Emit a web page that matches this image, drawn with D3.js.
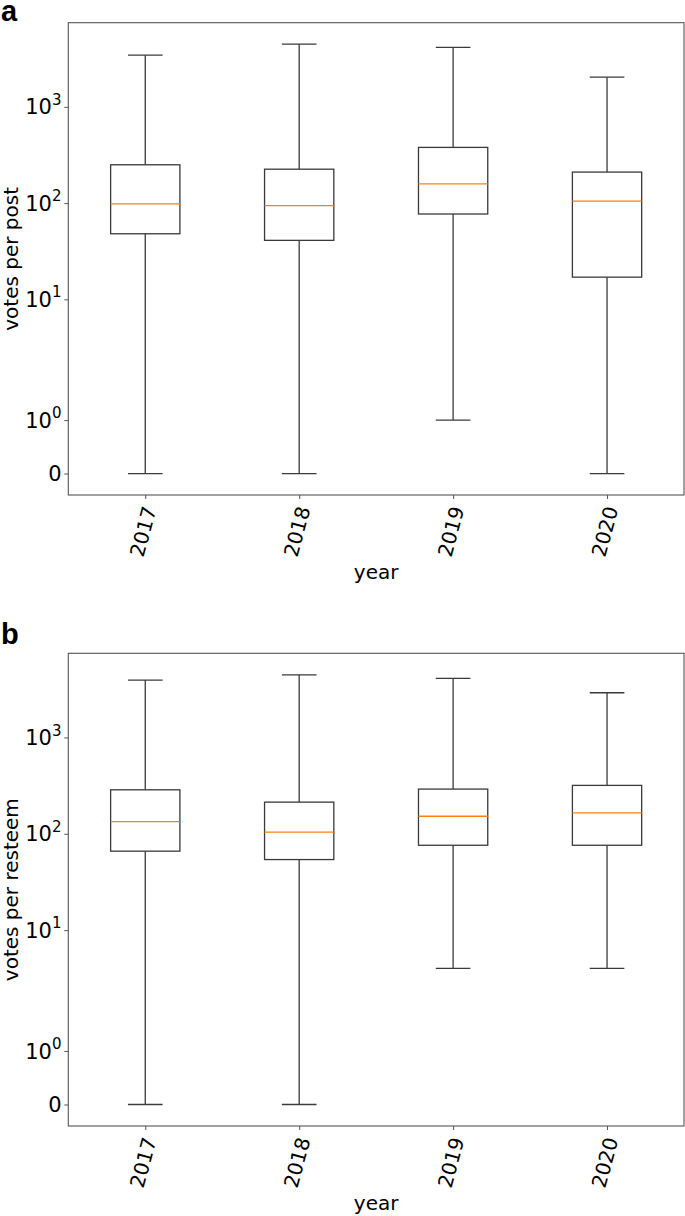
<!DOCTYPE html>
<html>
<head>
<meta charset="utf-8">
<script src="https://cdn.jsdelivr.net/npm/d3@7"></script>
<style>
  html, body { margin: 0; padding: 0; background: #fff; }
  svg { display: block; }
  text { font-family: "DejaVu Sans", sans-serif; fill: #000; }
</style>
</head>
<body>
<svg id="chart" width="685" height="1216"></svg>
<script>
// ---- data ----
const years = ["2017", "2018", "2019", "2020"];

// panel a: votes per post
const postWhiskerLow  = [0, 0, 1, 0];
const postQ1          = [48, 41, 77, 17];
const postMedian      = [98, 94, 158, 105];
const postQ3          = [250, 225, 379, 210];
const postWhiskerHigh = [3440, 4480, 4145, 2035];

// panel b: votes per resteem
const resWhiskerLow  = [0, 0, 4, 4];
const resQ1          = [66, 54, 76, 76];
const resMedian      = [134, 104, 152, 165];
const resQ3          = [286, 213, 291, 318];
const resWhiskerHigh = [3940, 4470, 4100, 2910];

const yTickValues = [0, 1, 10, 100, 1000];
const yTickExponents = [null, "0", "1", "2", "3"];

// ---- symlog transform (linthresh=2, linscale=1, base 10) ----
const LT = 2, LS = 1 / (1 - 1 / 10);
function symT(v) {
  const a = Math.abs(v);
  const r = a <= LT ? a * LS : LT * (LS + Math.log10(a / LT));
  return v < 0 ? -r : r;
}

const svg = d3.select("#chart");
const left = 68.3, right = 684;

function panel(cfg) {
  const { top, bottom, label, letter, letterY, lo, q1, med, q3, hi } = cfg;
  const g = svg.append("g");

  const x = d3.scalePoint().domain(years).range([left, right]).padding(0.5);
  const step = x.step();
  const bw = 0.45 * step;

  const fMax = d3.max(hi, symT), fMin = d3.min(lo, symT);
  const R = fMax - fMin;
  const y = d3.scaleLinear().domain([fMin - 0.05 * R, fMax + 0.05 * R]).range([bottom, top]);
  const Y = v => y(symT(v));

  const data = years.map((yr, i) => ({ yr, lo: lo[i], q1: q1[i], med: med[i], q3: q3[i], hi: hi[i] }));
  const stroke = "#3a3a3a", sw = 1.3;

  const b = g.selectAll("g.box").data(data).join("g").attr("class", "box");
  // whiskers
  b.append("line").attr("x1", d => x(d.yr)).attr("x2", d => x(d.yr))
    .attr("y1", d => Y(d.q3)).attr("y2", d => Y(d.hi)).attr("stroke", stroke).attr("stroke-width", sw);
  b.append("line").attr("x1", d => x(d.yr)).attr("x2", d => x(d.yr))
    .attr("y1", d => Y(d.q1)).attr("y2", d => Y(d.lo)).attr("stroke", stroke).attr("stroke-width", sw);
  // caps
  b.append("line").attr("x1", d => x(d.yr) - bw / 4).attr("x2", d => x(d.yr) + bw / 4)
    .attr("y1", d => Y(d.hi)).attr("y2", d => Y(d.hi)).attr("stroke", stroke).attr("stroke-width", sw);
  b.append("line").attr("x1", d => x(d.yr) - bw / 4).attr("x2", d => x(d.yr) + bw / 4)
    .attr("y1", d => Y(d.lo)).attr("y2", d => Y(d.lo)).attr("stroke", stroke).attr("stroke-width", sw);
  // box
  b.append("rect").attr("x", d => x(d.yr) - bw / 2).attr("width", bw)
    .attr("y", d => Y(d.q3)).attr("height", d => Y(d.q1) - Y(d.q3))
    .attr("fill", "none").attr("stroke", stroke).attr("stroke-width", sw);
  // median
  b.append("line").attr("x1", d => x(d.yr) - bw / 2).attr("x2", d => x(d.yr) + bw / 2)
    .attr("y1", d => Y(d.med)).attr("y2", d => Y(d.med)).attr("stroke", "#ff7f0e").attr("stroke-width", 1.3);

  // frame
  g.append("rect").attr("x", left).attr("y", top).attr("width", right - left).attr("height", bottom - top)
    .attr("fill", "none").attr("stroke", "#555").attr("stroke-width", 1.1);

  // y axis
  const yAxis = d3.axisLeft(y).tickValues(yTickValues.map(symT)).tickSize(4).tickFormat("");
  const ya = g.append("g").attr("transform", `translate(${left},0)`).call(yAxis);
  ya.select(".domain").remove();
  ya.selectAll(".tick line").attr("stroke", "#555");
  yTickValues.forEach((v, i) => {
    const t = g.append("text").attr("x", 61.5).attr("y", Y(v) + 7.6)
      .attr("text-anchor", "end").attr("font-size", 21);
    if (yTickExponents[i] === null) {
      t.text(String(v));
    } else {
      t.append("tspan").text("10");
      t.append("tspan").attr("dy", -9.5).attr("font-size", 15).text(yTickExponents[i]);
    }
  });

  // x axis
  const xAxis = d3.axisBottom(x).tickSize(4).tickFormat("");
  const xa = g.append("g").attr("transform", `translate(0,${bottom})`).call(xAxis);
  xa.select(".domain").remove();
  xa.selectAll(".tick line").attr("stroke", "#555");
  years.forEach(yr => {
    g.append("text")
      .attr("transform", `translate(${x(yr) + 4.5},${bottom + 12}) rotate(-75)`)
      .attr("text-anchor", "end").attr("dy", "0.35em").attr("font-size", 20).text(yr);
  });

  // axis titles
  g.append("text").attr("transform", `translate(18,${(top + bottom) / 2}) rotate(-90)`)
    .attr("text-anchor", "middle").attr("font-size", 20).text(label);
  g.append("text").attr("x", (left + right) / 2).attr("y", bottom + 84)
    .attr("text-anchor", "middle").attr("font-size", 20).text("year");

  // panel letter
  g.append("text").attr("x", 1).attr("y", letterY)
    .style("font-family", "'Liberation Sans', Arial, sans-serif")
    .attr("font-weight", "bold").attr("font-size", 29).text(letter);
}

panel({ top: 22.7, bottom: 495, label: "votes per post", letter: "a", letterY: 21,
  lo: postWhiskerLow, q1: postQ1, med: postMedian, q3: postQ3, hi: postWhiskerHigh });
panel({ top: 653.3, bottom: 1126, label: "votes per resteem", letter: "b", letterY: 644,
  lo: resWhiskerLow, q1: resQ1, med: resMedian, q3: resQ3, hi: resWhiskerHigh });
</script>
</body>
</html>
